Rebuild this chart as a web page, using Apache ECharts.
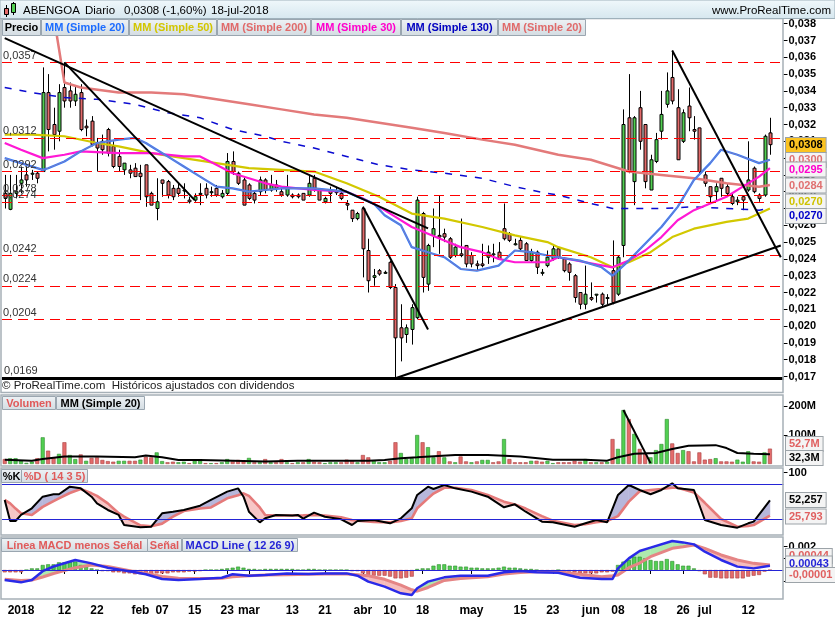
<!DOCTYPE html>
<html lang="es">
<head>
<meta charset="UTF-8">
<title>ABENGOA Diario</title>
<style>
  body { margin: 0; overflow: hidden; background: #fff; }
  #chart { width: 835px; height: 620px; }
</style>
</head>
<body>
<div id="chart"></div>
<script src="https://cdn.jsdelivr.net/npm/echarts@6/dist/echarts.min.js"></script>
<script>
var FONT = '"Liberation Sans", Arial, sans-serif';

// trading days on screen
var tradingDays = [
  ['2017-12', [27, 28, 29]],
  ['2018-01', [2, 3, 4, 5, 8, 9, 10, 11, 12, 15, 16, 17, 18, 19, 22, 23, 24, 25, 26, 29, 30, 31]],
  ['2018-02', [1, 2, 5, 6, 7, 8, 9, 12, 13, 14, 15, 16, 19, 20, 21, 22, 23, 26, 27, 28]],
  ['2018-03', [1, 2, 5, 6, 7, 8, 9, 12, 13, 14, 15, 16, 19, 20, 21, 22, 23, 26, 27, 28, 29]],
  ['2018-04', [3, 4, 5, 6, 9, 10, 11, 12, 13, 16, 17, 18, 19, 20, 23, 24, 25, 26, 27, 30]],
  ['2018-05', [2, 3, 4, 7, 8, 9, 10, 11, 14, 15, 16, 17, 18, 21, 22, 23, 24, 25, 28, 29, 30, 31]],
  ['2018-06', [1, 4, 5, 6, 7, 8, 11, 12, 13, 14, 15, 18, 19, 20, 21, 22, 25, 26, 27, 28, 29]],
  ['2018-07', [2, 3, 4, 5, 6, 9, 10, 11, 12, 13, 16, 17, 18]]
];

var dateLabels = {
  '2018-01-02': '2018', '2018-01-12': '12', '2018-01-22': '22', '2018-02-01': 'feb',
  '2018-02-07': '07', '2018-02-15': '15', '2018-02-23': '23', '2018-03-01': 'mar',
  '2018-03-13': '13', '2018-03-21': '21', '2018-04-03': 'abr', '2018-04-10': '10',
  '2018-04-18': '18', '2018-05-02': 'may', '2018-05-15': '15', '2018-05-23': '23',
  '2018-06-01': 'jun', '2018-06-08': '08', '2018-06-18': '18', '2018-06-26': '26',
  '2018-07-02': 'jul', '2018-07-12': '12'
};

// [open, high, low, close]
var candles = [
  [0.0279, 0.0290, 0.0270, 0.0276], [0.02695, 0.0290, 0.0269, 0.0279], [0.0279, 0.0290, 0.0276, 0.0280],
  [0.0285, 0.0295, 0.0279, 0.0287], [0.0290, 0.0295, 0.0283, 0.0287], [0.0291, 0.0293, 0.0287, 0.0291],
  [0.0291, 0.0292, 0.0285, 0.0288], [0.0292, 0.0354, 0.0292, 0.0339], [0.0339, 0.0350, 0.0304, 0.0317],
  [0.0320, 0.0330, 0.0305, 0.0314], [0.0316, 0.0344, 0.0310, 0.0339], [0.0342, 0.0357, 0.0330, 0.0334],
  [0.0340, 0.0345, 0.0330, 0.0334], [0.0334, 0.0343, 0.0331, 0.0338], [0.0339, 0.0344, 0.0316, 0.0317],
  [0.0319, 0.0323, 0.0313, 0.0318], [0.0322, 0.0325, 0.0307, 0.0308], [0.0309, 0.0312, 0.0292, 0.0306],
  [0.0310, 0.0314, 0.0302, 0.0305], [0.0317, 0.0318, 0.0301, 0.0303], [0.0307, 0.0310, 0.0294, 0.0295],
  [0.0301, 0.0305, 0.0292, 0.0295], [0.0293, 0.0297, 0.0290, 0.0297], [0.0293, 0.0296, 0.0288, 0.0291],
  [0.0294, 0.0297, 0.0289, 0.0289], [0.0291, 0.0296, 0.0275, 0.0289], [0.0296, 0.0296, 0.0271, 0.0277],
  [0.0279, 0.0280, 0.0272, 0.0272], [0.0270, 0.0288, 0.0263, 0.0274], [0.0287, 0.0287, 0.0277, 0.0285],
  [0.0286, 0.0287, 0.0276, 0.0278], [0.0282, 0.0284, 0.0275, 0.0277], [0.0282, 0.0285, 0.0277, 0.0279],
  [0.0281, 0.0285, 0.0276, 0.0281], [0.0275, 0.0277, 0.0273, 0.0274], [0.0275, 0.0279, 0.0274, 0.0277],
  [0.0279, 0.0285, 0.0272, 0.0279], [0.0282, 0.0285, 0.0276, 0.0278], [0.0280, 0.0283, 0.0277, 0.0280],
  [0.0282, 0.0284, 0.0277, 0.0278], [0.0277, 0.0281, 0.0276, 0.0279], [0.0279, 0.0303, 0.0278, 0.0298],
  [0.0298, 0.0304, 0.0290, 0.0292], [0.0291, 0.0292, 0.0284, 0.0285], [0.0287, 0.0289, 0.0272, 0.0272],
  [0.0284, 0.0285, 0.0275, 0.0276], [0.0279, 0.0280, 0.0273, 0.0275], [0.0280, 0.0289, 0.0278, 0.0287],
  [0.0287, 0.0288, 0.0279, 0.0281], [0.0281, 0.0290, 0.0280, 0.0284], [0.0284, 0.0287, 0.0280, 0.0282],
  [0.0280, 0.0282, 0.0277, 0.0278], [0.0278, 0.0290, 0.0277, 0.0282], [0.0278, 0.0279, 0.0276, 0.0277],
  [0.0278, 0.0279, 0.0276, 0.0277], [0.0279, 0.0279, 0.0275, 0.0275], [0.0278, 0.0290, 0.0277, 0.0285],
  [0.0288, 0.0290, 0.0280, 0.0281], [0.0281, 0.0282, 0.0275, 0.0275], [0.0274, 0.0277, 0.0273, 0.0276],
  [0.0281, 0.0283, 0.0274, 0.0279], [0.0280, 0.0283, 0.0278, 0.0280], [0.0279, 0.0282, 0.0275, 0.0276],
  [0.0273, 0.0275, 0.0269, 0.0272], [0.0269, 0.0269, 0.0262, 0.0264], [0.0264, 0.0268, 0.0263, 0.0267],
  [0.0270, 0.0271, 0.0229, 0.0246], [0.0245, 0.0252, 0.0220, 0.0227], [0.0229, 0.0234, 0.0224, 0.0230],
  [0.0233, 0.0234, 0.0230, 0.0231], [0.0232, 0.0233, 0.0231, 0.0232], [0.0238, 0.0239, 0.0222, 0.0223],
  [0.0223, 0.0225, 0.0169, 0.0193], [0.0199, 0.0213, 0.0179, 0.0193], [0.0195, 0.0201, 0.0190, 0.0199],
  [0.0198, 0.0213, 0.0189, 0.0211], [0.0205, 0.0277, 0.0204, 0.0275], [0.0267, 0.0268, 0.0220, 0.0229],
  [0.0225, 0.0249, 0.0221, 0.0248], [0.0254, 0.0270, 0.0247, 0.0258], [0.0254, 0.0278, 0.0243, 0.0253],
  [0.0255, 0.0258, 0.0250, 0.0253], [0.0252, 0.0253, 0.0240, 0.0241], [0.0242, 0.0249, 0.0241, 0.0247],
  [0.0243, 0.0264, 0.0241, 0.0242], [0.0248, 0.0248, 0.0235, 0.0237], [0.0242, 0.0244, 0.0235, 0.0237],
  [0.0237, 0.0239, 0.0233, 0.0236], [0.0237, 0.0249, 0.0235, 0.0236], [0.0241, 0.0248, 0.0237, 0.0244],
  [0.0243, 0.0249, 0.0238, 0.0243], [0.0244, 0.0250, 0.0240, 0.0240], [0.0258, 0.0273, 0.0251, 0.0252],
  [0.0255, 0.0256, 0.0250, 0.0251], [0.0249, 0.0252, 0.0248, 0.0249], [0.0251, 0.0253, 0.0245, 0.0246],
  [0.0249, 0.0250, 0.0239, 0.0239], [0.0239, 0.0246, 0.0238, 0.0244], [0.0244, 0.0245, 0.0231, 0.0235],
  [0.0232, 0.0234, 0.0230, 0.0232], [0.0236, 0.0245, 0.0235, 0.0241], [0.0240, 0.0248, 0.0239, 0.0246],
  [0.0246, 0.0247, 0.0240, 0.0241], [0.0240, 0.0241, 0.0232, 0.0233], [0.0237, 0.0238, 0.0227, 0.0232],
  [0.0230, 0.0231, 0.0214, 0.0217], [0.0220, 0.0220, 0.0210, 0.0213], [0.0213, 0.0236, 0.0210, 0.0219],
  [0.0217, 0.0226, 0.0215, 0.0216], [0.0219, 0.0219, 0.0214, 0.0219], [0.0219, 0.0220, 0.0211, 0.0213],
  [0.0217, 0.0219, 0.0213, 0.0217], [0.0233, 0.0251, 0.0213, 0.0214], [0.0219, 0.0242, 0.0218, 0.0241],
  [0.0248, 0.0329, 0.0241, 0.0320], [0.0324, 0.0350, 0.0291, 0.0292], [0.0286, 0.0325, 0.0272, 0.0324],
  [0.0330, 0.0340, 0.0305, 0.0310], [0.0320, 0.0320, 0.0282, 0.0286], [0.0281, 0.0302, 0.0281, 0.0299],
  [0.0298, 0.0315, 0.0297, 0.0311], [0.0316, 0.0340, 0.0311, 0.0326], [0.0332, 0.0351, 0.0330, 0.0340],
  [0.0348, 0.0364, 0.0332, 0.0334], [0.0330, 0.0341, 0.0299, 0.0299], [0.0310, 0.0329, 0.0309, 0.0327],
  [0.0331, 0.0342, 0.0316, 0.0324], [0.0317, 0.0325, 0.0311, 0.0316], [0.0318, 0.0318, 0.0291, 0.0292],
  [0.0290, 0.0292, 0.0283, 0.0285], [0.0283, 0.0283, 0.0273, 0.0277], [0.0280, 0.0285, 0.0274, 0.0283],
  [0.0288, 0.0288, 0.0277, 0.0282], [0.0283, 0.0285, 0.0277, 0.0279], [0.0277, 0.0279, 0.0272, 0.0273],
  [0.0274, 0.0277, 0.0272, 0.0275], [0.0277, 0.0278, 0.0269, 0.0275], [0.0281, 0.0310, 0.0280, 0.0287],
  [0.0294, 0.0295, 0.0279, 0.0280], [0.0278, 0.0279, 0.0274, 0.0276], [0.0278, 0.0314, 0.0277, 0.0313],
  [0.0315, 0.0324, 0.0302, 0.0308]
];

// volume, millions
var volumes = [
  17, 20, 20, 11, 4, 8, 20, 92, 46, 23, 35, 75, 31, 17, 33, 11, 21, 23, 14, 10,
  8, 11, 11, 11, 11, 15, 25, 23, 40, 10, 6, 8, 6, 8, 3, 11, 11, 3, 3, 3,
  6, 17, 9, 14, 8, 21, 6, 6, 17, 6, 6, 17, 6, 3, 6, 6, 17, 8, 6, 3,
  6, 6, 6, 15, 11, 6, 31, 23, 11, 6, 6, 11, 75, 38, 17, 20, 100, 75, 58, 23,
  44, 23, 9, 6, 26, 9, 6, 9, 14, 14, 6, 9, 86, 17, 6, 6, 6, 11, 11, 8,
  11, 3, 6, 6, 6, 11, 8, 17, 6, 6, 6, 8, 86, 52, 186, 155, 104, 52, 35, 23,
  48, 69, 155, 71, 38, 48, 44, 9, 40, 15, 17, 20, 9, 9, 8, 15, 8, 44, 9, 8,
  40, 53
];

// moving averages, [dayIndex, value]
var ma20 = [[0,0.0300],[3,0.0297],[7,0.0293],[8,0.0294],[11,0.0298],[14,0.0304],[17,0.0309],[21,0.0311],[24,0.0312],[26,0.0309],[28,0.0305],[30,0.0301],[33,0.0295],[36,0.0289],[39,0.0283],[42,0.0282],[45,0.0280],[48,0.0281],[51,0.0282],[57,0.0282],[63,0.0280],[65,0.0277],[68,0.0273],[70,0.0266],[73,0.0260],[75,0.0247],[78,0.0244],[81,0.0241],[84,0.0234],[87,0.0233],[91,0.0236],[94,0.0245],[97,0.0244],[100,0.0242],[102,0.0241],[106,0.0239],[110,0.0235],[112,0.0230],[115,0.0239],[118,0.0249],[121,0.0259],[124,0.0271],[127,0.0287],[130,0.0297],[132,0.0305],[135,0.0302],[139,0.0297],[141,0.0299]];
var ma30 = [[0,0.0309],[3,0.0305],[7,0.0300],[11,0.0302],[14,0.0304],[21,0.0303],[27,0.0303],[33,0.0301],[36,0.0301],[39,0.0296],[42,0.0291],[45,0.0288],[48,0.0285],[51,0.0283],[57,0.0281],[63,0.0280],[66,0.0276],[69,0.0271],[72,0.0265],[75,0.0259],[78,0.0255],[81,0.0251],[84,0.0247],[88,0.0244],[91,0.0240],[94,0.0238],[97,0.0238],[100,0.0238],[102,0.0241],[107,0.0238],[112,0.0235],[115,0.0239],[118,0.0245],[121,0.0253],[124,0.0263],[127,0.0269],[130,0.0273],[133,0.0277],[136,0.0283],[139,0.0289],[141,0.0294]];
var ma50 = [[0,0.0314],[5,0.0314],[11,0.0313],[17,0.0309],[21,0.0307],[27,0.0303],[33,0.0300],[39,0.0297],[45,0.0294],[51,0.0293],[57,0.0292],[63,0.0285],[69,0.0277],[75,0.0267],[81,0.0264],[88,0.0259],[94,0.0254],[100,0.0250],[102,0.0247],[108,0.0241],[112,0.0235],[115,0.0238],[119,0.0244],[123,0.0253],[127,0.0258],[133,0.0262],[137,0.0264],[139,0.0267],[141,0.0270]];
var ma130 = [[0,0.0342],[5,0.0339],[11,0.0336],[17,0.0335],[24,0.0332],[30,0.0327],[36,0.0324],[42,0.0317],[48,0.0313],[51,0.0310],[57,0.0306],[63,0.0301],[69,0.0296],[75,0.0293],[81,0.0291],[88,0.0288],[94,0.0283],[100,0.0279],[102,0.0278],[108,0.0273],[112,0.0270],[115,0.0270],[121,0.0270],[127,0.0271],[133,0.0270],[139,0.0269],[141,0.0270]];
var ma200 = [[9,0.0385],[11,0.0345],[14,0.0342],[21,0.0339],[27,0.0339],[33,0.0338],[39,0.0335],[45,0.0332],[51,0.0329],[57,0.0326],[63,0.0324],[69,0.0321],[75,0.0318],[81,0.0315],[88,0.0311],[94,0.0308],[102,0.0302],[108,0.0299],[115,0.0292],[121,0.0290],[127,0.0288],[133,0.0285],[139,0.0283],[141,0.0284]];
var volMa20 = [[0,15],[5,11.5],[7,17],[11,26],[17,26],[24,23],[26,29],[29,23],[32,14],[36,14],[42,11.5],[48,9],[54,11.5],[61,11.5],[67,11.5],[70,14],[73,20],[76,23],[83,31],[89,31],[95,26],[101,15],[107,15],[111,11.5],[113,23],[116,35],[120,38],[123,52],[126,63],[131,65],[133,55],[135,38],[138,35],[141,34]];

// drawn trend lines, [dayIndex, price]
var trendLines = [
  [[0, 0.03714], [78, 0.02582]],
  [[66, 0.0271], [78, 0.0198]],
  [[11, 0.0357], [35, 0.0275]],
  [[72, 0.0169], [143, 0.0248]],
  [[123, 0.0364], [143, 0.0241]]
];
var volTrend = [[114, 186], [119, 3]];
var levels = [0.0357, 0.0312, 0.0292, 0.0278, 0.0274, 0.0242, 0.0224, 0.0204];
var supportLevel = 0.0169;

// stochastic %K / %D (14 3 5)
var stochIdx = [0,1,2,3,5,7,9,10,12,14,16,17,19,21,22,25,27,29,31,33,36,38,41,43,44,45,47,48,50,53,54,55,57,59,62,64,65,68,71,73,75,76,78,79,81,83,86,89,92,94,96,99,101,105,107,109,111,113,115,117,119,121,123,124,127,129,132,135,137,138,141];
var stochK = [53,16.5,16.5,27,38.5,58.6,62.7,62.7,75.9,73,58.6,47.1,35.6,27,9.6,5.6,6.7,29.8,32.6,35.6,43,52.9,67.3,73,58.6,32.6,14.2,21.2,27,26,27,20.6,30.9,23.9,19.5,9.6,16.5,18.2,12.5,21.2,38.5,61.6,75.9,71.9,78.8,73,67.3,58.6,40.2,45.4,32.6,15.4,14.2,6.7,12.5,18.2,14.2,61.6,78.8,70.2,62.7,70.2,81.7,73,70.2,18.2,9.6,5,12.5,15.4,52.3];
var stochD = [52.9,47,38,30,27,41,51,55.7,65,71.9,64.4,60,47,30,24,9,7.5,12,24,33.8,38,40,55.7,61,64.4,60,40,27,26,26,26,26.3,27,26,23,18.2,17,15,14.2,16.5,21.2,38.5,55.7,64,74,74.1,70.2,61.6,50,45,38,25,17,9.6,11,14.5,16.5,25,50,68,70.2,72,74.1,74,66,48,20,6.7,8,9.6,25.8];

// MACD (12 26 9)
var macdIdx = [0,3,5,7,9,13,16,19,24,26,29,32,36,40,42,45,48,52,56,59,63,65,67,70,73,75,76,78,81,84,89,92,95,98,102,106,110,112,113,115,117,119,123,125,127,129,132,135,138,141];
var macdLine = [-0.00086,-0.00106,-0.00086,-0.0001,0.0003,0.00086,0.00057,0.0002,-0.0002,-0.00037,-0.00077,-0.00086,-0.00077,-0.00066,-0.00037,-0.00049,-0.00043,-0.00029,-0.00034,-0.00029,-0.00029,-0.00049,-0.001,-0.00143,-0.002,-0.00215,-0.00157,-0.001,-0.00063,-0.00049,-0.00049,-0.0002,-0.00009,-0.0002,-0.00023,-0.00066,-0.00077,-0.00077,0.00014,0.001,0.00163,0.00192,0.00249,0.00237,0.0022,0.00157,0.00086,0.00029,0.00014,0.00037];
var macdSignal = [-0.0008,-0.0009,-0.00086,-0.0006,-0.0003,0.0002,0.00043,0.0003,-0.00014,-0.0003,-0.00055,-0.0007,-0.00072,-0.0007,-0.00057,-0.0005,-0.00043,-0.0004,-0.00037,-0.00035,-0.00035,-0.0004,-0.0005,-0.0008,-0.0013,-0.0017,-0.00182,-0.0015,-0.0009,-0.00072,-0.00057,-0.00035,-0.00022,-0.00014,-0.00014,-0.00037,-0.00057,-0.0005,-0.00043,0.0002,0.0006,0.00114,0.00186,0.002,0.00215,0.00186,0.00129,0.00086,0.00057,0.00043];
var macdHist = [
  -0.0002,-0.0002,-0.0002,-0.0002,0,0.00014,0.00014,0.00043,0.00049,0.00049,0.00066,0.00066,0.00072,0.00072,0.00043,0.00029,0.00014,0,-0.0001,-0.0001,
  -0.0002,-0.0002,-0.00029,-0.00029,-0.00037,-0.00037,-0.00037,-0.00043,-0.00029,-0.00029,-0.00029,-0.0002,-0.0002,-0.0002,-0.00014,-0.00014,-0.0001,0,0,0,
  0.00009,0.00014,0.0002,0.00029,0.0002,0.00009,0.00009,0,0.00009,0.00009,0.00009,0.00009,0.00009,0.00009,0,0,0.00009,0.00009,0,0,
  0,0,0,0,-0.0001,-0.0001,-0.00029,-0.00043,-0.00049,-0.00049,-0.00049,-0.00057,-0.00072,-0.00072,-0.00066,-0.00057,0.00009,0.00014,0.00014,0.00037,
  0.00049,0.00049,0.00037,0.00037,0.00029,0.00029,0.0002,0.0002,0.00014,0.00014,0.00014,0.0002,0.00029,0.0002,0.0002,0.00014,0.00009,0.00009,0,-0.0001,
  -0.0001,-0.0001,0,-0.00014,-0.00014,-0.0002,-0.00029,-0.00029,-0.00029,-0.00029,-0.0002,-0.0002,-0.00014,0.00043,0.00072,0.00086,0.00114,0.00114,0.001,0.00086,
  0.00077,0.00077,0.00094,0.00077,0.00049,0.00037,0.00037,0.00014,-0.0001,-0.00037,-0.00066,-0.00066,-0.00072,-0.00072,-0.00072,-0.00072,-0.00072,-0.00057,-0.00049,-0.00043,
  -0.00014,-0.00001
];

var priceTicks = [0.017,0.018,0.019,0.020,0.021,0.022,0.023,0.024,0.025,0.026,0.027,0.028,0.029,0.030,0.031,0.032,0.033,0.034,0.035,0.036,0.037,0.038];

// ---------------------------------------------------------------
var dates = [];
tradingDays.forEach(function (m) {
  m[1].forEach(function (d) { dates.push(m[0] + '-' + (d < 10 ? '0' + d : d)); });
});
var categories = dates.concat([' ', '  ']);

var RED = '#e36b6b', GREEN = '#52cf52';

function comma(v, d) { return v.toFixed(d).replace('.', ','); }

function pairs(idx, vals) {
  return idx.map(function (x, j) { return [x, vals[j]]; });
}

function lineSeries(data, axis, color, width, extra) {
  var s = {
    type: 'line', xAxisIndex: axis, yAxisIndex: axis, data: data,
    symbol: 'none', silent: true, z: 3, connectNulls: true,
    lineStyle: { color: color, width: width }
  };
  for (var k in extra) s[k] = extra[k];
  return s;
}

// filled area between two lines, colour by which one is above
function bandSeries(idx, upper, lower, colUp, colDown, axis) {
  var segs = [];
  for (var j = 0; j < idx.length - 1; j++) {
    segs.push([idx[j], idx[j + 1], upper[j], lower[j], upper[j + 1], lower[j + 1]]);
  }
  return {
    type: 'custom', xAxisIndex: axis, yAxisIndex: axis, silent: true, z: 1,
    data: segs, encode: { x: [0, 1], y: [2, 3, 4, 5] },
    renderItem: function (params, api) {
      var x0 = api.value(0), x1 = api.value(1);
      var a0 = api.value(2), b0 = api.value(3), a1 = api.value(4), b1 = api.value(5);
      var pa0 = api.coord([x0, a0]), pb0 = api.coord([x0, b0]);
      var pa1 = api.coord([x1, a1]), pb1 = api.coord([x1, b1]);
      var d0 = a0 - b0, d1 = a1 - b1, polys = [];
      if (d0 * d1 >= 0) {
        polys.push({ pts: [pa0, pa1, pb1, pb0], up: d0 + d1 >= 0 });
      } else {
        var t = d0 / (d0 - d1);
        var pc = [pa0[0] + t * (pa1[0] - pa0[0]), pa0[1] + t * (pa1[1] - pa0[1])];
        polys.push({ pts: [pa0, pc, pb0], up: d0 > 0 });
        polys.push({ pts: [pc, pa1, pb1], up: d1 > 0 });
      }
      return {
        type: 'group',
        children: polys.map(function (p) {
          var c = p.up ? colUp : colDown;
          return { type: 'polygon', shape: { points: p.pts }, style: { fill: c, stroke: c, lineWidth: 0.5 } };
        })
      };
    }
  };
}

function renderCandle(params, api) {
  var i = api.value(0);
  var o = api.value(1), h = api.value(2), l = api.value(3), c = api.value(4);
  var po = api.coord([i, o]), ph = api.coord([i, h]), pl = api.coord([i, l]), pc = api.coord([i, c]);
  var x = Math.round(po[0]) + 0.5;
  var top = Math.min(po[1], pc[1]), bot = Math.max(po[1], pc[1]);
  if (bot - top < 1) bot = top + 1;
  return {
    type: 'group',
    children: [
      { type: 'line', shape: { x1: x, y1: ph[1], x2: x, y2: pl[1] }, style: { stroke: '#000', lineWidth: 1 } },
      { type: 'rect', shape: { x: x - 1.5, y: top, width: 3, height: bot - top },
        style: { fill: c >= o ? GREEN : RED, stroke: '#000', lineWidth: 1 } }
    ]
  };
}

var volumeData = volumes.map(function (v, i) {
  var prev = i > 0 ? candles[i - 1][3] : candles[i][0];
  var up = candles[i][3] >= prev;
  return { value: v, itemStyle: { color: up ? GREEN : RED, borderColor: up ? '#2d8a2d' : '#a84040', borderWidth: 0.6 } };
});
var histData = macdHist.map(function (v) {
  var up = v >= 0;
  return { value: v, itemStyle: { color: up ? GREEN : RED, borderColor: up ? '#2d8a2d' : '#a84040', borderWidth: 0.6 } };
});

// ---------------------------------------------------------------
var gridL = 2, gridR = 51.5;
var grids = [
  { left: gridL, right: gridR, top: 15.3, height: 369.6 },
  { left: gridL, right: gridR, top: 395, height: 71 },
  { left: gridL, right: gridR, top: 468, height: 67 },
  { left: gridL, right: gridR, top: 537, height: 62 }
];

var showLabel = function (idx, value) { return dateLabels[value] !== undefined; };

var xAxes = grids.map(function (g, k) {
  var last = k === 3;
  return {
    type: 'category', gridIndex: k, data: categories, boundaryGap: true,
    axisLine: { show: false },
    axisTick: { show: last, interval: showLabel, alignWithLabel: true, length: 4, lineStyle: { color: '#000' } },
    axisLabel: {
      show: last, interval: showLabel, margin: 6,
      formatter: function (v) { return dateLabels[v] || ''; },
      fontFamily: FONT, fontWeight: 'bold', fontSize: 12, color: '#000'
    },
    splitLine: { show: false }
  };
});

function yAxis(k, min, max, ticks, tickLabels, fmt) {
  return {
    type: 'value', gridIndex: k, position: 'right', min: min, max: max, scale: true,
    axisLine: { show: false }, splitLine: { show: false },
    axisTick: { show: true, length: 4, customValues: ticks, lineStyle: { color: '#000' } },
    axisLabel: { customValues: tickLabels, formatter: fmt, margin: 5, fontFamily: FONT, fontWeight: 'bold', fontSize: 11, color: '#000' }
  };
}

var yAxes = [
  yAxis(0, 0.0165, 0.0385, priceTicks, priceTicks, function (v) { return comma(v, 3); }),
  yAxis(1, -6.9, 237.9, [100, 200], [100, 200], function (v) { return v + 'M'; }),
  yAxis(2, -7.7, 108.2, [100], [100], function (v) { return String(Math.round(v)); }),
  yAxis(3, -0.002489, 0.002833, [0.002, 0.001, -0.001], [0.002], function (v) { return v.toFixed(3); })
];

var series = [
  {
    type: 'custom', xAxisIndex: 0, yAxisIndex: 0, z: 2, silent: true,
    data: candles.map(function (r, i) { return [i, r[0], r[1], r[2], r[3]]; }),
    encode: { x: 0, y: [1, 2, 3, 4] },
    renderItem: renderCandle
  },
  lineSeries(ma200, 0, '#e37a7a', 2.5, {
    markLine: {
      silent: true, symbol: ['none', 'none'], animation: false, precision: 6,
      lineStyle: { color: '#ff0000', type: [10, 6], width: 1 },
      label: { show: true, position: 'insideStartTop', distance: 1, color: '#333', fontFamily: FONT, fontSize: 11,
        formatter: function (p) { return comma(p.value, 4); } },
      data: levels.map(function (v) { return { yAxis: v }; })
    }
  }),
  lineSeries(ma130, 0, '#0a0ad0', 1.5, { lineStyle: { color: '#0a0ad0', width: 1.5, type: [7, 8] } }),
  lineSeries(ma50, 0, '#d2c800', 2.2, {
    markLine: {
      silent: true, symbol: ['none', 'none'], animation: false, precision: 6,
      lineStyle: { color: '#000', type: 'solid', width: 3 },
      label: { show: true, position: 'insideStartTop', distance: 2, color: '#333', fontFamily: FONT, fontSize: 11,
        formatter: function (p) { return comma(p.value, 4); } },
      data: [{ yAxis: supportLevel }]
    }
  }),
  lineSeries(ma30, 0, '#ff18d4', 2.2),
  lineSeries(ma20, 0, '#2a7cff', 2.2),
  lineSeries(ma20, 0, '#e07a7a', 0.6, { lineStyle: { color: '#e07a7a', width: 0.6, opacity: 0.8 } })
];

trendLines.forEach(function (seg) {
  series.push(lineSeries(seg, 0, '#000', 2, { z: 5 }));
});

series.push(
  { type: 'bar', xAxisIndex: 1, yAxisIndex: 1, data: volumeData, barWidth: 4, silent: true, z: 2 },
  lineSeries(volMa20, 1, '#000', 2),
  lineSeries(volTrend, 1, '#000', 2, { z: 5 }),

  bandSeries(stochIdx, stochK, stochD, '#b7b7db', '#f7c6c6', 2),
  lineSeries(pairs(stochIdx, stochD), 2, '#e57a7a', 2.6, {
    markLine: {
      silent: true, symbol: ['none', 'none'], animation: false, label: { show: false }, precision: 6,
      lineStyle: { color: '#2424d6', type: 'solid', width: 1.2 },
      data: [{ yAxis: 80 }, { yAxis: 20 }]
    }
  }),
  lineSeries(pairs(stochIdx, stochK), 2, '#000', 2, { z: 4 }),

  { type: 'bar', xAxisIndex: 3, yAxisIndex: 3, data: histData, barWidth: 4, silent: true, z: 2 },
  bandSeries(macdIdx, macdLine, macdSignal, '#aeeaae', '#f6bcbc', 3),
  lineSeries(pairs(macdIdx, macdSignal), 3, '#e58585', 3, {
    markLine: {
      silent: true, symbol: ['none', 'none'], animation: false, label: { show: false }, precision: 6,
      lineStyle: { color: '#2424d6', type: 'solid', width: 1.2 },
      data: [{ yAxis: 0 }]
    }
  }),
  lineSeries(pairs(macdIdx, macdLine), 3, '#2a2ae8', 2.5, { z: 4 })
);

// ---------------------------------------------------------------
var graphics = [];
var boxFill = new echarts.graphic.LinearGradient(0, 0, 0, 1, [
  { offset: 0, color: '#eef2f5' }, { offset: 1, color: '#d3dce2' }
]);

function legendBox(x, y, w, h, text, color) {
  graphics.push(
    { type: 'rect', z: 100, shape: { x: x + 0.5, y: y + 0.5, width: w, height: h },
      style: { fill: boxFill, stroke: '#9aa6b0', lineWidth: 1 } },
    { type: 'text', z: 101, x: x + w / 2 + 0.5, y: y + h / 2 + 1,
      style: { text: text, fill: color, font: 'bold 11px ' + FONT, align: 'center', verticalAlign: 'middle' } }
  );
}

function frame(x, y, w, h) {
  graphics.push({ type: 'rect', z: 90, shape: { x: x, y: y, width: w, height: h },
    style: { fill: 'none', stroke: '#a6b0b7', lineWidth: 1.5 } });
}

function valueBox(text, y, color, bg) {
  graphics.push({ type: 'text', z: 110, x: 786, y: y,
    style: { text: text, fill: color, font: 'bold 11px ' + FONT, verticalAlign: 'middle',
      backgroundColor: bg || '#f4f4f4', borderColor: '#9ca3a8', borderWidth: 1, padding: [2, 3, 1, 3] } });
}

// header
graphics.push(
  { type: 'rect', z: 100, shape: { x: 0, y: 0, width: 835, height: 18.5 },
    style: { fill: new echarts.graphic.LinearGradient(0, 0, 0, 1, [{ offset: 0, color: '#f0f8fb' }, { offset: 1, color: '#d6e7ef' }]),
      stroke: '#9fb1bb', lineWidth: 1 } },
  { type: 'line', z: 101, shape: { x1: 6.5, y1: 5, x2: 6.5, y2: 17 }, style: { stroke: '#000', lineWidth: 1 } },
  { type: 'rect', z: 102, shape: { x: 4.5, y: 8.5, width: 4, height: 6 }, style: { fill: RED, stroke: '#000', lineWidth: 1 } },
  { type: 'line', z: 101, shape: { x1: 13.5, y1: 2, x2: 13.5, y2: 15 }, style: { stroke: '#000', lineWidth: 1 } },
  { type: 'rect', z: 102, shape: { x: 11.5, y: 3.5, width: 4, height: 9 }, style: { fill: GREEN, stroke: '#000', lineWidth: 1 } },
  { type: 'text', z: 101, x: 23, y: 11, style: { text: 'ABENGOA', fill: '#000', font: '11.5px ' + FONT, verticalAlign: 'middle' } },
  { type: 'text', z: 101, x: 85, y: 11, style: { text: 'Diario', fill: '#000', font: '11.5px ' + FONT, verticalAlign: 'middle' } },
  { type: 'text', z: 101, x: 124, y: 11, style: { text: '0,0308 (-1,60%)', fill: '#000', font: '11.5px ' + FONT, verticalAlign: 'middle' } },
  { type: 'text', z: 101, x: 211, y: 11, style: { text: '18-jul-2018', fill: '#000', font: '11.5px ' + FONT, verticalAlign: 'middle' } },
  { type: 'text', z: 101, x: 831, y: 11, style: { text: 'www.ProRealTime.com', fill: '#000', font: '11.5px ' + FONT, align: 'right', verticalAlign: 'middle' } }
);

frame(1, 18.5, 782, 374);
frame(1, 395, 782, 71);
frame(1, 468, 782, 67);
frame(1, 537, 782, 62);

legendBox(2, 19, 38, 16, 'Precio', '#000');
legendBox(41, 19, 87, 16, 'MM (Simple 20)', '#1c6cff');
legendBox(129, 19, 87, 16, 'MM (Simple 50)', '#d2c600');
legendBox(217, 19, 93, 16, 'MM (Simple 200)', '#e06a6a');
legendBox(311, 19, 89, 16, 'MM (Simple 30)', '#ff00cc');
legendBox(401, 19, 96, 16, 'MM (Simple 130)', '#0000c0');
legendBox(498, 19, 87, 16, 'MM (Simple 20)', '#e06a6a');

legendBox(2, 396, 53, 13, 'Volumen', '#e05a5a');
legendBox(56, 396, 88, 13, 'MM (Simple 20)', '#000');
legendBox(1, 469, 20, 13, '%K', '#000');
legendBox(21, 469, 66, 13, '%D ( 14 3 5)', '#e05a5a');
legendBox(1, 538, 146, 13, 'Línea MACD menos Señal', '#e05a5a');
legendBox(147, 538, 34, 13, 'Señal', '#e05a5a');
legendBox(182, 538, 115, 13, 'MACD Line ( 12 26 9)', '#2424d6');

graphics.push({ type: 'text', z: 100, x: 2, y: 386,
  style: { text: '\u00a9 ProRealTime.com  Históricos ajustados con dividendos', fill: '#222', font: '11.5px ' + FONT, verticalAlign: 'middle' } });

valueBox('0,0300', 160, '#e07070');
valueBox('0,0308', 145, '#000', '#fbc321');
valueBox('0,0295', 169.5, '#ff00cc');
valueBox('0,0284', 185.5, '#e07070');
valueBox('0,0270', 201.5, '#cfc300');
valueBox('0,0270', 216, '#0000c8');
valueBox('52,7M', 444, '#e06060');
valueBox('32,3M', 458, '#000');
valueBox('52,257', 500, '#000');
valueBox('25,793', 516.5, '#e06060');
valueBox('0,00044', 556, '#e06060');
valueBox('0,00043', 563.5, '#2424d6');
valueBox('-0,00001', 575, '#e06060');

var chart = echarts.init(document.getElementById('chart'), null, { renderer: 'canvas' });
chart.setOption({
  animation: false,
  backgroundColor: '#fff',
  textStyle: { fontFamily: FONT },
  grid: grids,
  xAxis: xAxes,
  yAxis: yAxes,
  series: series,
  graphic: { elements: graphics }
});
</script>
</body>
</html>
